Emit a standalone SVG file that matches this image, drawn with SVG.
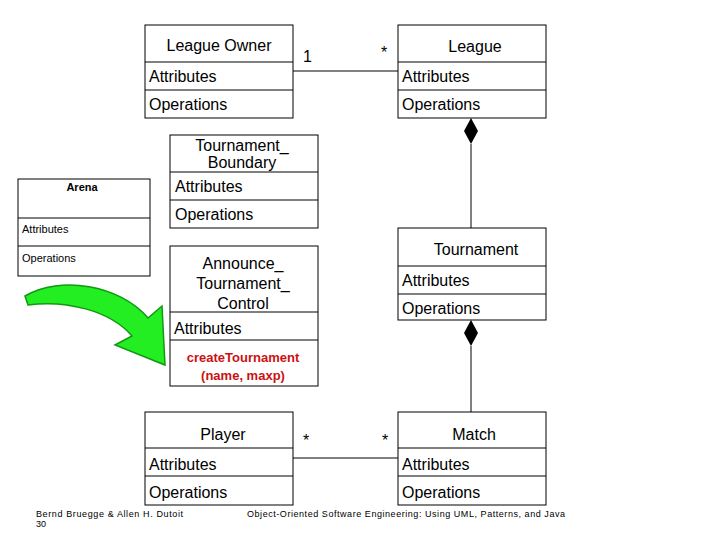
<svg xmlns="http://www.w3.org/2000/svg" width="720" height="540" viewBox="0 0 720 540">
<style>
.b{fill:#fff;stroke:#000;stroke-width:1}
.t{font-family:"Liberation Sans",Arial,sans-serif;font-size:16px;fill:#000}
.h{font-family:"Liberation Sans",Arial,sans-serif;font-size:16px;fill:#000;text-anchor:middle}
.s{font-family:"Liberation Sans",Arial,sans-serif;font-size:11px;fill:#000}
.l{stroke:#000;stroke-width:1;fill:none}
.f{font-family:"Liberation Sans",Arial,sans-serif;font-size:9px;fill:#000}
.r{font-family:"Liberation Sans",Arial,sans-serif;font-size:13px;font-weight:bold;fill:#cc1111;text-anchor:middle}
</style>
<rect width="720" height="540" fill="#fff"/>
<g id="connectors">
<line class="l" x1="293" y1="71" x2="398" y2="71"/>
<text class="t" x="303" y="62" font-size="13">1</text>
<text class="t" x="381" y="58" font-size="13">*</text>
<polygon points="471,118 478,131 471,144 464,131" fill="#000"/>
<line class="l" x1="471" y1="144" x2="471" y2="228"/>
<polygon points="471,320 478,333 471,346 464,333" fill="#000"/>
<line class="l" x1="471" y1="346" x2="471" y2="412"/>
<line class="l" x1="293" y1="458" x2="398" y2="458"/>
<text class="t" x="303" y="446" font-size="13">*</text>
<text class="t" x="382" y="446" font-size="13">*</text>
</g>
<g id="arrow">
<path d="M25,296 C60,275 120,285 148,318 L162,306 L165,365 L115,345 L132,336 C110,310 65,300 28,305 Z" fill="#22ee22" stroke="#119911" stroke-width="1.5"/>
</g>
<g id="leagueowner"><rect class="b" x="145" y="25" width="148" height="93"/><line class="l" x1="145" y1="62" x2="293" y2="62"/><line class="l" x1="145" y1="90" x2="293" y2="90"/>
<text class="h" x="219" y="51">League Owner</text><text class="t" x="149" y="82">Attributes</text><text class="t" x="149" y="110">Operations</text></g>
<g id="league"><rect class="b" x="398" y="25" width="148" height="93"/><line class="l" x1="398" y1="62" x2="546" y2="62"/><line class="l" x1="398" y1="90" x2="546" y2="90"/>
<text class="h" x="475" y="52">League</text><text class="t" x="402" y="82">Attributes</text><text class="t" x="402" y="110">Operations</text></g>
<g id="boundary"><rect class="b" x="170" y="135" width="148" height="93"/><line class="l" x1="170" y1="172" x2="318" y2="172"/><line class="l" x1="170" y1="200" x2="318" y2="200"/>
<text class="h" x="242" y="151" font-size="14">Tournament_</text><text class="h" x="242" y="168" font-size="14">Boundary</text><text class="t" x="175" y="192">Attributes</text><text class="t" x="175" y="220">Operations</text></g>
<g id="arena"><rect class="b" x="18" y="179" width="132" height="97"/><line class="l" x1="18" y1="218" x2="150" y2="218"/><line class="l" x1="18" y1="246" x2="150" y2="246"/>
<text class="s" x="82" y="191" text-anchor="middle" font-weight="bold" font-size="10">Arena</text><text class="s" x="22" y="233">Attributes</text><text class="s" x="22" y="262">Operations</text></g>
<g id="control"><rect class="b" x="170" y="246" width="148" height="140"/><line class="l" x1="170" y1="312" x2="318" y2="312"/><line class="l" x1="170" y1="340" x2="318" y2="340"/>
<text class="h" x="243" y="269">Announce_</text><text class="h" x="243" y="289">Tournament_</text><text class="h" x="243" y="309">Control</text><text class="t" x="174" y="334">Attributes</text>
<text class="r" x="243" y="362">createTournament</text><text class="r" x="243" y="380">(name, maxp)</text></g>
<g id="tournament"><rect class="b" x="398" y="228" width="148" height="92"/><line class="l" x1="398" y1="266" x2="546" y2="266"/><line class="l" x1="398" y1="294" x2="546" y2="294"/>
<text class="h" x="476" y="255">Tournament</text><text class="t" x="402" y="286">Attributes</text><text class="t" x="402" y="314">Operations</text></g>
<g id="player"><rect class="b" x="145" y="412" width="148" height="93"/><line class="l" x1="145" y1="448" x2="293" y2="448"/><line class="l" x1="145" y1="476" x2="293" y2="476"/>
<text class="h" x="223" y="440">Player</text><text class="t" x="149" y="470">Attributes</text><text class="t" x="149" y="498">Operations</text></g>
<g id="match"><rect class="b" x="398" y="412" width="148" height="93"/><line class="l" x1="398" y1="448" x2="546" y2="448"/><line class="l" x1="398" y1="476" x2="546" y2="476"/>
<text class="h" x="474" y="440">Match</text><text class="t" x="402" y="470">Attributes</text><text class="t" x="402" y="498">Operations</text></g>
<text class="f" x="36" y="517" textLength="147" lengthAdjust="spacing">Bernd Bruegge &amp; Allen H. Dutoit</text>
<text class="f" x="36" y="527">30</text>
<text class="f" x="247" y="517" textLength="318" lengthAdjust="spacing">Object-Oriented Software Engineering: Using UML, Patterns, and Java</text>
</svg>
